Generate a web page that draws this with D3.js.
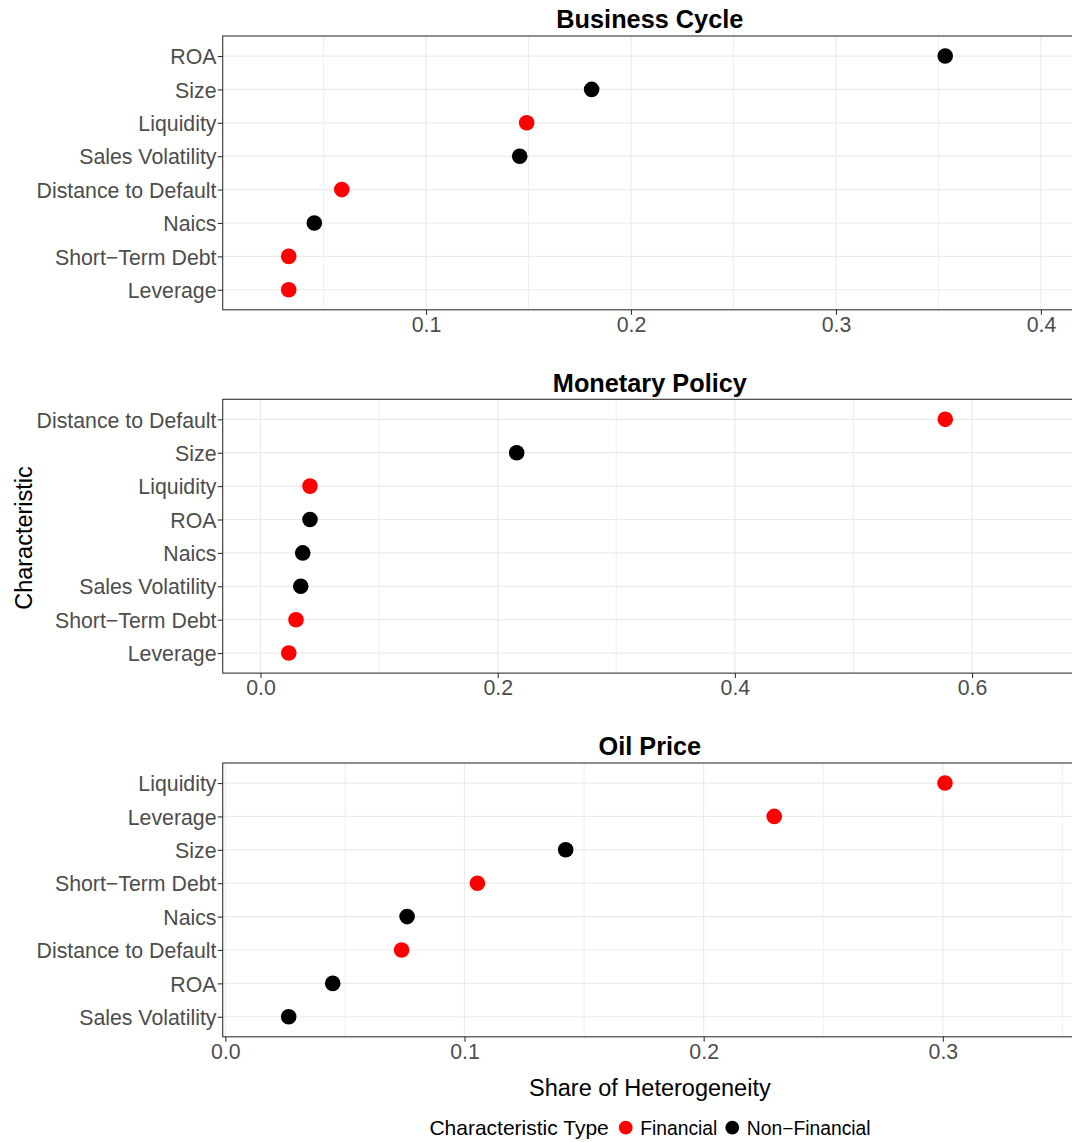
<!DOCTYPE html>
<html>
<head>
<meta charset="utf-8">
<script src="https://cdn.jsdelivr.net/npm/d3@7"></script>
<style>
  html, body { margin: 0; padding: 0; background: #ffffff; }
  svg { display: block; font-family: "Liberation Sans", Arial, Helvetica, sans-serif; }
</style>
</head>
<body>
<div id="chart"></div>
<script>
// Share of heterogeneity explained by each firm characteristic, per shock.
const panelTitles = ["Business Cycle", "Monetary Policy", "Oil Price"];

const financialCharacteristics = ["Liquidity", "Distance to Default", "Short\u2212Term Debt", "Leverage"];
const typeLabels = ["Financial", "Non\u2212Financial"];

// Business Cycle (rows listed top to bottom)
const bcCharacteristics = ["ROA", "Size", "Liquidity", "Sales Volatility", "Distance to Default", "Naics", "Short\u2212Term Debt", "Leverage"];
const bcShares = [0.3533, 0.1808, 0.1491, 0.1457, 0.0589, 0.0455, 0.0330, 0.0330];
const bcTicks = [0.1, 0.2, 0.3, 0.4];
const bcLimits = [0.0008, 0.4176];

// Monetary Policy
const mpCharacteristics = ["Distance to Default", "Size", "Liquidity", "ROA", "Naics", "Sales Volatility", "Short\u2212Term Debt", "Leverage"];
const mpShares = [0.5774, 0.2160, 0.0417, 0.0417, 0.0356, 0.0339, 0.0299, 0.0238];
const mpTicks = [0.0, 0.2, 0.4, 0.6];
const mpLimits = [-0.0319, 0.6885];

// Oil Price
const opCharacteristics = ["Liquidity", "Leverage", "Size", "Short\u2212Term Debt", "Naics", "Distance to Default", "ROA", "Sales Volatility"];
const opShares = [0.3009, 0.2295, 0.1423, 0.1054, 0.0760, 0.0737, 0.0449, 0.0265];
const opTicks = [0.0, 0.1, 0.2, 0.3];
const opLimits = [-0.0011, 0.3561];

const panels = [
  { title: panelTitles[0], chars: bcCharacteristics, shares: bcShares, ticks: bcTicks, limits: bcLimits },
  { title: panelTitles[1], chars: mpCharacteristics, shares: mpShares, ticks: mpTicks, limits: mpLimits },
  { title: panelTitles[2], chars: opCharacteristics, shares: opShares, ticks: opTicks, limits: opLimits }
];

const W = 1072, H = 1142;
const panelLeft = 222.7, panelRight = 1077;
const panelTops = [36, 399.3, 763];
const panelHeight = 273.8;

const colour = d3.scaleOrdinal().domain(typeLabels).range(["#FF0000", "#000000"]);
const typeOf = c => financialCharacteristics.includes(c) ? typeLabels[0] : typeLabels[1];
const fmt = d3.format(".1f");

const svg = d3.select("#chart").append("svg")
  .attr("width", W).attr("height", H)
  .attr("viewBox", `0 0 ${W} ${H}`);

svg.append("rect").attr("width", W).attr("height", H).attr("fill", "#ffffff");

panels.forEach((p, i) => {
  const top = panelTops[i], bottom = top + panelHeight;
  const x = d3.scaleLinear().domain(p.limits).range([panelLeft, panelRight]);
  const y = d3.scalePoint().domain(p.chars).range([top, bottom]).padding(0.6);

  const g = svg.append("g");

  // minor grid at midpoints between major ticks
  const step = p.ticks[1] - p.ticks[0];
  const minor = [];
  for (let k = -1; k <= p.ticks.length; k++) {
    const v = p.ticks[0] + (k + 0.5) * step;
    if (v > p.limits[0] && v < p.limits[1]) minor.push(v);
  }
  g.selectAll(".minor").data(minor).join("line")
    .attr("x1", d => x(d)).attr("x2", d => x(d))
    .attr("y1", top).attr("y2", bottom)
    .attr("stroke", "#EBEBEB").attr("stroke-width", 0.8);

  g.selectAll(".majorx").data(p.ticks).join("line")
    .attr("x1", d => x(d)).attr("x2", d => x(d))
    .attr("y1", top).attr("y2", bottom)
    .attr("stroke", "#EBEBEB").attr("stroke-width", 1.2);

  g.selectAll(".majory").data(p.chars).join("line")
    .attr("x1", panelLeft).attr("x2", panelRight)
    .attr("y1", d => y(d)).attr("y2", d => y(d))
    .attr("stroke", "#EBEBEB").attr("stroke-width", 1.2);

  // points
  g.selectAll("circle").data(p.chars.map((c, j) => ({ c, v: p.shares[j] }))).join("circle")
    .attr("cx", d => x(d.v)).attr("cy", d => y(d.c))
    .attr("r", 7.8)
    .attr("fill", d => colour(typeOf(d.c)));

  // panel border
  g.append("rect")
    .attr("x", panelLeft).attr("y", top)
    .attr("width", panelRight - panelLeft).attr("height", panelHeight)
    .attr("fill", "none").attr("stroke", "#333333").attr("stroke-width", 1.1);

  // y axis
  const ya = svg.append("g").attr("transform", `translate(${panelLeft},0)`)
    .call(d3.axisLeft(y).tickSize(5).tickPadding(1.2).tickSizeOuter(0));
  ya.select(".domain").remove();
  ya.selectAll(".tick line").attr("stroke", "#333333").attr("stroke-width", 1.1);
  ya.selectAll(".tick text")
    .attr("fill", "#4D4D4D").attr("font-size", "21.3px")
    .attr("dy", "0.36em");

  // x axis
  const xa = svg.append("g").attr("transform", `translate(0,${bottom})`)
    .call(d3.axisBottom(x).tickValues(p.ticks).tickFormat(fmt).tickSize(5).tickPadding(1.8).tickSizeOuter(0));
  xa.select(".domain").remove();
  xa.selectAll(".tick line").attr("stroke", "#333333").attr("stroke-width", 1.1);
  xa.selectAll(".tick text")
    .attr("fill", "#4D4D4D").attr("font-size", "21.3px");

  // panel title
  svg.append("text")
    .attr("x", (panelLeft + panelRight) / 2).attr("y", top - 7.6)
    .attr("text-anchor", "middle")
    .attr("font-size", "25.3px").attr("font-weight", "bold").attr("fill", "#000000")
    .text(p.title);
});

// axis titles
svg.append("text")
  .attr("x", (panelLeft + panelRight) / 2).attr("y", 1095.7)
  .attr("text-anchor", "middle").attr("font-size", "23.5px").attr("fill", "#000000")
  .text("Share of Heterogeneity");

svg.append("text")
  .attr("transform", "translate(31.5,538) rotate(-90)")
  .attr("text-anchor", "middle").attr("font-size", "23.5px").attr("fill", "#000000")
  .text("Characteristic");

// legend
const legend = svg.append("g");
legend.append("text")
  .attr("x", 429.4).attr("y", 1135)
  .attr("font-size", "21px").attr("fill", "#000000")
  .text("Characteristic Type");
const legendX = [625.7, 732.3];
typeLabels.forEach((t, k) => {
  legend.append("circle")
    .attr("cx", legendX[k]).attr("cy", 1127.7).attr("r", 6.9)
    .attr("fill", colour(t));
  legend.append("text")
    .attr("x", legendX[k] + 14.5).attr("y", 1135)
    .attr("font-size", "19.3px").attr("fill", "#000000")
    .text(t);
});
</script>
</body>
</html>
